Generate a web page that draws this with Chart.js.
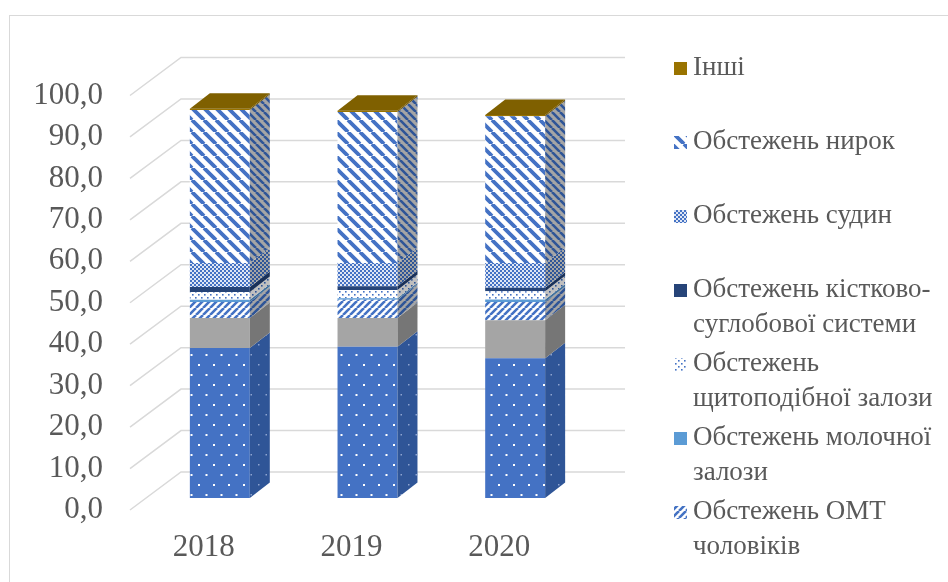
<!DOCTYPE html>
<html lang="uk">
<head>
<meta charset="utf-8">
<script src="https://cdn.jsdelivr.net/npm/chart.js@4.4.1/dist/chart.umd.min.js"></script>
<style>
  html, body { margin: 0; padding: 0; background: #fff; overflow: hidden; }
  .frame { position: absolute; left: 9px; top: 15px; width: 1000px; height: 700px; border: 1.5px solid #d9d9d9; }
  #chart { position: absolute; left: 0; top: 0; }
</style>
</head>
<body>
<div class="frame"></div>
<canvas id="chart" width="948" height="582"></canvas>
<script>
// years on the x axis
const years = ['2018', '2019', '2020'];

// shares, % (stack order bottom -> top)
const abdominal = [36.2, 36.5, 33.7];
const omtWomen = [7.2, 6.9, 9.2];
const omtMen = [3.9, 4.4, 4.4];
const breast = [0.5, 0.4, 0.6];
const thyroid = [1.9, 2.0, 2.0];
const musculo = [1.2, 0.9, 0.8];
const vessels = [5.8, 5.6, 6.0];
const kidneys = [36.9, 36.4, 35.4];
const other = [0.3, 0.3, 0.3];

const yTicks = [0, 10, 20, 30, 40, 50, 60, 70, 80, 90, 100];

const FONT = 'Liberation Serif';
const TEXT = '#595959';

// --- fill patterns, a bit like the excel ones ---
function tile(w, h, bg, draw) {
  const c = document.createElement('canvas');
  c.width = w; c.height = h;
  const g = c.getContext('2d');
  if (bg) { g.fillStyle = bg; g.fillRect(0, 0, w, h); }
  if (draw) draw(g);
  return g.createPattern(c, 'repeat');
}

function dots(bg, fg, r) {
  return tile(15, 20, bg, g => {
    g.fillStyle = fg;
    g.fillRect(3, 4, r, r);
    g.fillRect(10.5, 14, r, r);
  });
}

function stripes(bg, fg, s, lw, up) {
  return tile(s, s, bg, g => {
    g.strokeStyle = fg;
    g.lineWidth = lw;
    g.beginPath();
    for (let k = -1; k <= 1; k++) {
      if (up) { g.moveTo(k * s, s); g.lineTo(k * s + s, 0); }
      else { g.moveTo(k * s, 0); g.lineTo(k * s + s, s); }
    }
    g.stroke();
  });
}

function smallDots(bg, fg) {
  return tile(6, 6, bg, g => {
    g.fillStyle = fg;
    g.fillRect(0, 0, 1.6, 1.6);
    g.fillRect(3, 3, 1.6, 1.6);
  });
}

function checker(a, b) {
  return tile(4, 4, a, g => {
    g.fillStyle = b;
    g.fillRect(0, 0, 2, 2);
    g.fillRect(2, 2, 2, 2);
  });
}

const datasets = [
  { label: 'Обстежень органів черевної порожнини', data: abdominal,
    backgroundColor: dots('#4472c4', '#ffffff', 2), sideColor: dots('#2f5597', '#8ea4cf', 1.5) },
  { label: 'Обстежень ОМТ жінок', data: omtWomen,
    backgroundColor: '#a5a5a5', sideColor: '#767676' },
  { label: 'Обстежень ОМТ чоловіків', data: omtMen,
    backgroundColor: stripes('#ffffff', '#4472c4', 7, 2.6, true), sideColor: stripes('#a5a5a5', '#2f5597', 7, 2.6, true) },
  { label: 'Обстежень молочної залози', data: breast,
    backgroundColor: '#5b9bd5', sideColor: '#41719c' },
  { label: 'Обстежень щитоподібної залози', data: thyroid,
    backgroundColor: smallDots('#ffffff', '#4472c4'), sideColor: smallDots('#bfbfbf', '#2f5597') },
  { label: 'Обстежень кістково-суглобової системи', data: musculo,
    backgroundColor: '#264478', sideColor: '#1a3159' },
  { label: 'Обстежень судин', data: vessels,
    backgroundColor: checker('#4472c4', '#dfe6f4'), sideColor: checker('#2f5597', '#a5a5a5') },
  { label: 'Обстежень нирок', data: kidneys,
    backgroundColor: stripes('#ffffff', '#4472c4', 12, 3.8, false), sideColor: stripes('#a5a5a5', '#2f5597', 8, 2.6, false) },
  { label: 'Інші', data: other,
    backgroundColor: '#997300', sideColor: '#6b5000', topColor: '#7f6000' }
].map(ds => Object.assign(ds, { borderWidth: 0, categoryPercentage: 1, barPercentage: 0.406 }));

// depth of the bars and of the walls (oblique 3d look)
const DX = 20, DY = -15.5;

const wall3d = {
  id: 'wall3d',
  beforeDatasetsDraw(chart) {
    const { ctx } = chart;
    const ys = chart.scales.y;
    ctx.save();
    ctx.strokeStyle = '#d9d9d9';
    ctx.lineWidth = 1.5;
    ys.ticks.forEach(t => {
      const p = ys.getPixelForValue(t.value);
      ctx.beginPath();
      ctx.moveTo(130, p + 12);
      ctx.lineTo(181, p - 26);
      ctx.lineTo(625, p - 26);
      ctx.stroke();
    });
    ctx.restore();
  }
};

const sides3d = {
  id: 'sides3d',
  afterDatasetsDraw(chart) {
    const { ctx } = chart;
    const last = chart.data.datasets.length - 1;
    ctx.save();
    chart.data.datasets.forEach((ds, i) => {
      chart.getDatasetMeta(i).data.forEach(bar => {
        const { x, y, base, width } = bar.getProps(['x', 'y', 'base', 'width'], true);
        const xl = x - width / 2, xr = x + width / 2;
        const top = Math.min(y, base), bot = Math.max(y, base);
        ctx.fillStyle = ds.sideColor;
        ctx.beginPath();
        ctx.moveTo(xr, top);
        ctx.lineTo(xr + DX, top + DY);
        ctx.lineTo(xr + DX, bot + DY);
        ctx.lineTo(xr, bot);
        ctx.closePath();
        ctx.fill();
        if (i === last) {
          ctx.fillStyle = ds.topColor;
          ctx.beginPath();
          ctx.moveTo(xl, top);
          ctx.lineTo(xl + DX, top + DY);
          ctx.lineTo(xr + DX, top + DY);
          ctx.lineTo(xr, top);
          ctx.closePath();
          ctx.fill();
        }
      });
    });
    ctx.restore();
  }
};

function wrapLabel(ctx, text, maxW) {
  const tokens = text.split(' ').flatMap(w => w.includes('-') ? w.split(/(?<=-)/) : [w]);
  const lines = [];
  let cur = '';
  tokens.forEach(tk => {
    const joined = cur === '' ? tk : (cur.endsWith('-') ? cur + tk : cur + ' ' + tk);
    if (cur !== '' && ctx.measureText(joined).width > maxW) {
      lines.push(cur);
      cur = tk;
    } else {
      cur = joined;
    }
  });
  if (cur) lines.push(cur);
  return lines;
}

// legend on the right, reversed like excel does it, overflow just falls off
const legendRight = {
  id: 'legendRight',
  afterDraw(chart) {
    const { ctx } = chart;
    ctx.save();
    ctx.font = '27px "' + FONT + '"';
    ctx.textBaseline = 'middle';
    let y = 68;
    chart.data.datasets.slice().reverse().forEach(ds => {
      if (y > chart.height - 12) return;
      const lines = wrapLabel(ctx, ds.label, 250);
      ctx.fillStyle = ds.backgroundColor;
      ctx.fillRect(674, y - 6, 13, 13);
      ctx.fillStyle = TEXT;
      lines.forEach((ln, k) => ctx.fillText(ln, 693, y + k * 35));
      y += 74;
    });
    ctx.restore();
  }
};

new Chart(document.getElementById('chart').getContext('2d'), {
  type: 'bar',
  data: { labels: years, datasets: datasets },
  options: {
    responsive: false,
    animation: false,
    layout: { padding: { top: 83.5, right: 359, left: 0, bottom: 0 } },
    plugins: {
      legend: { display: false },
      tooltip: { enabled: false }
    },
    scales: {
      x: {
        stacked: true,
        grid: { display: false, drawTicks: false },
        border: { display: false },
        ticks: {
          color: TEXT,
          font: { family: FONT, size: 31 },
          padding: 31,
          labelOffset: -16,
          maxRotation: 0
        },
        afterFit: s => { s.height = 84; }
      },
      y: {
        stacked: true,
        min: 0,
        max: 100,
        afterBuildTicks: s => { s.ticks = yTicks.map(v => ({ value: v })); },
        grid: { display: false, drawTicks: false },
        border: { display: false },
        ticks: {
          color: TEXT,
          font: { family: FONT, size: 31 },
          padding: 43,
          labelOffset: 12,
          autoSkip: false,
          callback: v => v.toFixed(1).replace('.', ',')
        },
        afterFit: s => { s.width = 146; }
      }
    }
  },
  plugins: [wall3d, sides3d, legendRight]
});
</script>
</body>
</html>
